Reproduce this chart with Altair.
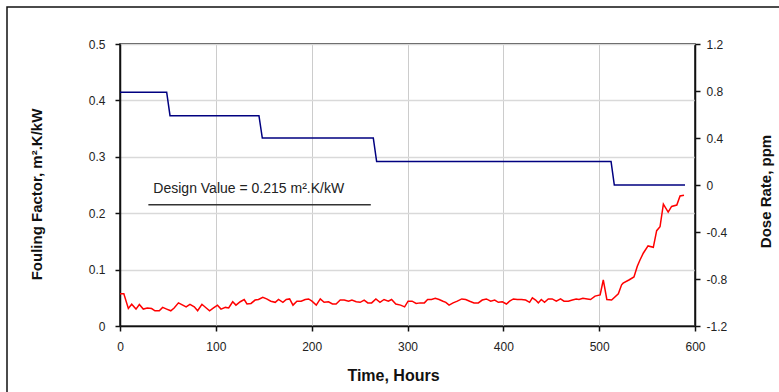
import altair as alt
import pandas as pd

# ---------------- data ----------------
hours = [0, 4, 8.7, 12.2, 16.7, 20.2, 24.3, 28.5, 33, 36.5, 41, 44.5, 48.7, 53, 56.5, 61, 65.5, 69, 73, 77.5,
         81, 85.5, 90, 93.5, 97.6, 101.7, 105.4, 110, 113.4, 117.6, 121, 125.5, 129.6, 132.5, 136.7, 141, 144.5,
         149, 153, 157.4, 162, 165.4, 170, 173.5, 177, 180.5, 184.6, 189, 193.3, 196.8, 200.3, 204.8, 209, 213,
         217.6, 221.7, 225.5, 229.8, 234, 238.5, 242, 246.5, 250.6, 254.8, 258.6, 262.6, 267, 271.3, 275.5, 280,
         283.4, 287.8, 292.8, 297, 300.6, 304.8, 309, 313.2, 317.6, 321, 325, 329, 333, 337, 340, 343.4, 347.6,
         352, 356.6, 360.7, 364.9, 369.4, 373.9, 378, 382.3, 386.8, 391, 394.8, 399, 403.2, 406.6, 410.5, 414.6,
         419, 423.3, 427.4, 430.3, 433.7, 436.5, 439.6, 443, 446.9, 451, 455.3, 459.7, 463.3, 467.8, 472, 476,
         479, 483, 487.6, 491, 495.7, 501, 504.3, 508, 513, 520, 523.4, 525, 531.5, 536.3, 539.8, 542.6, 546,
         551, 556.5, 560, 563.5, 567, 572, 575.6, 581, 584.4, 588.5]
fouling = [0.057, 0.057, 0.031, 0.0385, 0.030, 0.038, 0.030, 0.032, 0.031, 0.027, 0.027, 0.033, 0.030, 0.027,
           0.032, 0.041, 0.037, 0.034, 0.0385, 0.034, 0.027, 0.0385, 0.032, 0.027, 0.032, 0.037, 0.030, 0.033,
           0.032, 0.043, 0.037, 0.043, 0.047, 0.039, 0.040, 0.046, 0.047, 0.051, 0.048, 0.044, 0.042, 0.047,
           0.042, 0.047, 0.048, 0.037, 0.044, 0.044, 0.047, 0.048, 0.044, 0.037, 0.048, 0.042, 0.043, 0.039,
           0.039, 0.046, 0.046, 0.044, 0.046, 0.043, 0.042, 0.046, 0.041, 0.041, 0.048, 0.042, 0.047, 0.044,
           0.047, 0.039, 0.037, 0.034, 0.044, 0.044, 0.040, 0.041, 0.041, 0.047, 0.047, 0.049, 0.047, 0.044,
           0.042, 0.037, 0.041, 0.044, 0.048, 0.047, 0.044, 0.041, 0.041, 0.046, 0.048, 0.044, 0.046, 0.042,
           0.043, 0.039, 0.044, 0.048, 0.047, 0.047, 0.046, 0.042, 0.050, 0.046, 0.041, 0.047, 0.042, 0.048,
           0.048, 0.044, 0.048, 0.044, 0.044, 0.046, 0.048, 0.047, 0.049, 0.048, 0.047, 0.053, 0.055, 0.0816,
           0.047, 0.046, 0.057, 0.073, 0.076, 0.082, 0.087, 0.106, 0.117, 0.129, 0.142, 0.1395, 0.169, 0.176,
           0.216, 0.202, 0.212, 0.2145, 0.2305, 0.232]

dose_hours = [0, 48.7, 52.2, 145, 148.5, 264.3, 267.8, 512.4, 515.8, 589.6]
dose_rate = [0.79, 0.79, 0.59, 0.59, 0.4, 0.4, 0.2, 0.2, 0.0, 0.0]

design_hours = [29.6, 261.7]
design_value = [0.215, 0.215]
design_label = ["Design Value = 0.215 m².K/kW"]
design_label_hour = [34.8]
design_label_value = [0.236]

x_ticks = [0, 100, 200, 300, 400, 500, 600]
left_ticks = [0, 0.1, 0.2, 0.3, 0.4, 0.5]
right_ticks = [-1.2, -0.8, -0.4, 0, 0.4, 0.8, 1.2]

FONT = "Liberation Sans"

# ---------------- chart ----------------
fouling_df = pd.DataFrame({"Time": hours, "Fouling": fouling})
dose_df = pd.DataFrame({"Time": dose_hours, "Dose": dose_rate})
design_df = pd.DataFrame({"Time": design_hours, "Fouling": design_value})
label_df = pd.DataFrame({"Time": design_label_hour, "Fouling": design_label_value, "Label": design_label})

xscale = alt.Scale(domain=[0, 600], nice=False, zero=False)
yleft = alt.Scale(domain=[0, 0.5], nice=False)
yright = alt.Scale(domain=[-1.2, 1.2], nice=False)

x_axis = alt.Axis(values=x_ticks, title="Time, Hours", grid=True, gridColor="#cccccc", gridWidth=1,
                  labelPadding=10, titlePadding=15, labelFontSize=12, titleFontSize=16,
                  titleFontWeight="bold", format="d", labelFlush=False, titleX=273)

left_axis = alt.Axis(values=left_ticks, title="Fouling Factor, m².K/kW", grid=True, gridColor="#d9d9d9",
                     gridWidth=1.5, labelPadding=10, titlePadding=44, labelFontSize=12, titleFontSize=15,
                     titleFontWeight="bold", labelFlush=False, titleY=150,
                     labelExpr="datum.value == 0 ? '0' : format(datum.value, '.1f')")

right_axis = alt.Axis(values=right_ticks, orient="right", title="Dose Rate, ppm", grid=False,
                      labelPadding=6, titlePadding=32, labelFontSize=12, titleFontSize=15,
                      titleFontWeight="bold", titleAngle=270, titleBaseline="top", labelFlush=False,
                      titleY=147, labelExpr="toString(datum.value)")

X = alt.X("Time:Q", scale=xscale, axis=x_axis)
YL = alt.Y("Fouling:Q", scale=yleft, axis=left_axis)

red = alt.Chart(fouling_df).mark_line(color="#ff0000", strokeWidth=1.5).encode(x=X, y=YL)

design = alt.Chart(design_df).mark_line(color="#333333", strokeWidth=1.5).encode(x=X, y=YL)

label = alt.Chart(label_df).mark_text(align="left", baseline="alphabetic", fontSize=14, font=FONT,
                                      color="#222222").encode(x=X, y=YL, text="Label:N")

blue = alt.Chart(dose_df).mark_line(color="#000080", strokeWidth=1.5).encode(
    x=X,
    y=alt.Y("Dose:Q", scale=yright, axis=right_axis),
)

frame = alt.Chart(pd.DataFrame({"k": [0]})).mark_rect(fill="transparent", stroke="#111111",
                                                      strokeWidth=1.5).encode(
    x=alt.value(-113), x2=alt.value(700), y=alt.value(-37), y2=alt.value(400)
)

left_layer = alt.layer(red, design, label)

chart = alt.layer(left_layer, blue, frame).resolve_scale(y="independent").properties(
    width=575, height=282,
    padding={"left": 120, "top": 44, "right": 84, "bottom": 66},
    autosize=alt.AutoSizeParams(type="none"),
    background="white",
).configure_view(stroke="#111111", strokeWidth=1.5).configure_axis(
    labelFont=FONT, titleFont=FONT, labelColor="#222222", titleColor="#111111",
    domainColor="#111111", domainWidth=1.5, tickColor="#111111", tickWidth=1.5, tickSize=5,
)

chart.save("out.html", embed_options={"renderer": "svg", "actions": False})
